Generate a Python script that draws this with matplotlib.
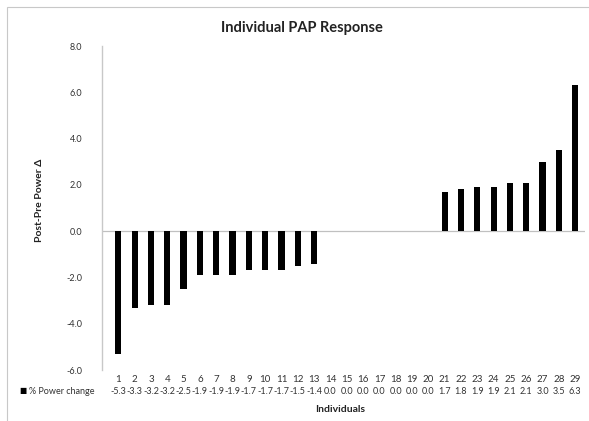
import matplotlib.pyplot as plt
from matplotlib.patches import Rectangle
from matplotlib.transforms import blended_transform_factory

plt.rcParams['font.family'] = ['Lato', 'DejaVu Sans']

individuals = list(range(1, 30))
power_change = [-5.3, -3.3, -3.2, -3.2, -2.5, -1.9, -1.9, -1.9, -1.7, -1.7,
                -1.7, -1.5, -1.4, 0.0, 0.0, 0.0, 0.0, 0.0, 0.0, 0.0,
                1.7, 1.8, 1.9, 1.9, 2.1, 2.1, 3.0, 3.5, 6.3]
y_ticks = [-6.0, -4.0, -2.0, 0.0, 2.0, 4.0, 6.0, 8.0]

W, H = 589, 421
fig = plt.figure(figsize=(W / 100, H / 100), dpi=100)
fig.patches.append(Rectangle((7 / W, -0.01), 1.0, 1 - 7 / H + 0.01,
                             transform=fig.transFigure, fill=False,
                             edgecolor='#c8c8c8', linewidth=0.8))

ax = fig.add_axes([102 / W, 51 / H, (585 - 102) / W, (370 - 46) / H])
ax.bar(individuals, power_change, width=0.38, color='black')
ax.set_xlim(0.0, 29.6)
ax.set_ylim(-6, 8)
ax.set_yticks(y_ticks)
ax.set_yticklabels(['%.1f' % v for v in y_ticks], fontsize=6.5, color='#333333')
ax.tick_params(axis='y', length=0, pad=14)
ax.set_xticks(individuals)
ax.set_xticklabels([str(i) for i in individuals], fontsize=7, color='#333333')
ax.tick_params(axis='x', length=0, pad=3.5)
ax.axhline(0, color='#c0c0c0', linewidth=0.9, zorder=0)
for s in ['top', 'right', 'bottom']:
    ax.spines[s].set_visible(False)
ax.spines['left'].set_color('#c8c8c8')
ax.spines['left'].set_linewidth(1.0)

# data table row under the axis
tr = blended_transform_factory(ax.transData, ax.transAxes)
for x, v in zip(individuals, power_change):
    ax.text(x, -0.065, '%.1f' % v, transform=tr, ha='center', va='center',
            fontsize=6.5, color='#333333')
fig.text(19 / W, 1 - 391 / H, '\u25a0', fontsize=5.5, va='center', ha='left')
fig.text(29 / W, 1 - 392 / H, '% Power change', fontsize=6.5, va='center',
         ha='left', color='#333333')

fig.text(302 / W, 1 - 28 / H, 'Individual PAP Response', fontsize=10.5,
         fontweight='bold', ha='center', va='center', color='#222222')
fig.text(340 / W, 1 - 409 / H, 'Individuals', fontsize=7.5,
         fontweight='bold', ha='center', va='center', color='#222222')
fig.text(40 / W, 1 - 200 / H, 'Post-Pre Power \u0394', fontsize=7.5,
         fontweight='bold', ha='center', va='center', rotation=90,
         color='#222222')

fig.savefig('out.png', dpi=100)
